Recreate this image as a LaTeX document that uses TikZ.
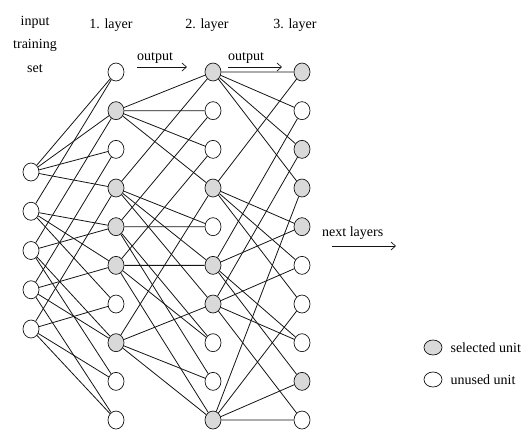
\documentclass[tikz,border=0pt]{standalone}
\usepackage{fontspec}
\setmainfont{Liberation Serif}
\usepackage{tikz}
\usetikzlibrary{arrows.meta, positioning, shapes.geometric}
\definecolor{selgray}{RGB}{217,217,217}
\definecolor{linkdark}{RGB}{20,20,20}
\tikzset{
  unit/.style={ellipse, draw=linkdark, fill=white,
    minimum width=16pt, minimum height=18pt, inner sep=0pt, line width=0.7pt},
  selunit/.style={unit, fill=selgray},
  legunit/.style={ellipse, draw=linkdark, fill=white,
    minimum width=18pt, minimum height=15pt, inner sep=0pt, line width=0.7pt},
  link/.style={line width=0.8pt, color=linkdark},
  flowarrow/.style={-{Straight Barb[length=4.5pt,width=8pt]}, line width=0.7pt, color=linkdark},
  lbl/.style={font=\fontsize{14}{16}\selectfont, inner sep=0pt}
}

\begin{document}
\begin{tikzpicture}[x=1pt, y=-1pt]
  \useasboundingbox (0,0) rectangle (525,429);

  % Column headings
  \node[lbl, align=center, anchor=north, font=\fontsize{14}{23.5}\selectfont]
    (inlbl) at (35,16) {input\\training\\set};
  \node[lbl, anchor=base] (lay1) at (111,28) {1. layer};
  \node[lbl, anchor=base] (lay2) at (207,28) {2. layer};
  \node[lbl, anchor=base] (lay3) at (295,28) {3. layer};

  % Units of every layer
  \foreach \i in {1,...,5}
    \node[unit] (in\i) at (31,{172+39.25*(\i-1)}) {};
  \foreach \i/\st in {1/unit,2/selunit,3/unit,4/selunit,5/selunit,
                      6/selunit,7/unit,8/selunit,9/unit,10/unit}
    \node[\st] (la\i) at (116,{72+38.67*(\i-1)}) {};
  \foreach \i/\st in {1/selunit,2/unit,3/unit,4/selunit,5/unit,
                      6/selunit,7/selunit,8/unit,9/unit,10/selunit}
    \node[\st] (lb\i) at (213,{72+38.67*(\i-1)}) {};
  \foreach \i/\st in {1/selunit,2/unit,3/selunit,4/selunit,5/selunit,
                      6/unit,7/unit,8/unit,9/selunit,10/unit}
    \node[\st] (lc\i) at (302,{72+38.67*(\i-1)}) {};

  % ── Pairs: inputs → 1. layer ─────────────────────────────────────────────
  \foreach \k/\a/\b in {1/1/2,2/1/3,3/1/4,4/1/5,5/2/3,6/2/4,7/2/5,8/3/4,9/3/5,10/4/5}
    \draw[link] (in\a) -- (la\k) (in\b) -- (la\k);

  % ── Pairs: selected of 1. layer → 2. layer ───────────────────────────────
  \foreach \k/\a/\b in {1/2/4,2/2/5,3/2/6,4/2/8,5/4/5,6/4/6,7/4/8,8/5/6,9/5/8,10/6/8}
    \draw[link] (la\a) -- (lb\k) (la\b) -- (lb\k);

  % ── Pairs: selected of 2. layer → 3. layer ───────────────────────────────
  \foreach \k/\a/\b in {1/1/4,2/1/6,3/1/7,4/1/10,5/4/6,6/4/7,7/4/10,8/6/7,9/6/10,10/7/10}
    \draw[link] (lb\a) -- (lc\k) (lb\b) -- (lc\k);

  % ── Output arrows ────────────────────────────────────────────────────────
  \node[lbl, anchor=base west] (out1) at (137,60) {output};
  \coordinate (out1a) at (137,67);
  \coordinate (out1b) at (187,67);
  \draw[flowarrow] (out1a) -- (out1b);

  \node[lbl, anchor=base west] (out2) at (228,60) {output};
  \coordinate (out2a) at (228,67);
  \coordinate (out2b) at (282,67);
  \draw[flowarrow] (out2a) -- (out2b);

  \node[lbl, anchor=base west] (nextl) at (322,236) {next layers};
  \coordinate (nexta) at (332,246);
  \coordinate (nextb) at (396,246);
  \draw[flowarrow] (nexta) -- (nextb);

  % ── Legend ───────────────────────────────────────────────────────────────
  \node[legunit, fill=selgray] (legsel) at (433,347.5) {};
  \node[lbl, right=8pt of legsel] (legseltxt) {selected unit};
  \node[legunit] (legunu) at (433,379.5) {};
  \node[lbl, right=8pt of legunu] (legunutxt) {unused unit};
\end{tikzpicture}
\end{document}
